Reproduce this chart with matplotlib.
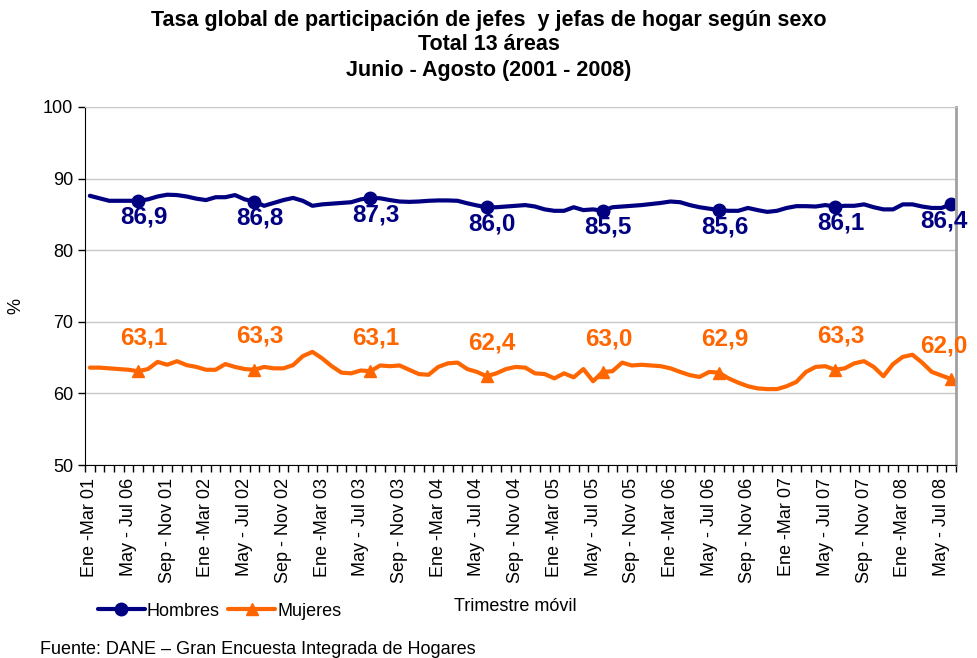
import numpy as np
import matplotlib
matplotlib.use('Agg')
import matplotlib.pyplot as plt

plt.rcParams['font.family'] = ['Liberation Sans', 'DejaVu Sans']

# trimestres moviles Ene-Mar 01 ... Jun-Ago 08 (90 puntos)
hombres = [87.6, 87.25, 86.9, 86.9, 86.9, 86.9, 87.1, 87.5, 87.75, 87.7,
           87.5, 87.2, 87.0, 87.4, 87.4, 87.7, 87.1, 86.8, 86.2, 86.6,
           87.0, 87.3, 86.9, 86.2, 86.4, 86.5, 86.6, 86.7, 87.1, 87.3,
           87.25, 87.0, 86.8, 86.75, 86.8, 86.9, 86.95, 86.95, 86.9, 86.55,
           86.25, 86.0, 86.0, 86.1, 86.2, 86.3, 86.1, 85.7, 85.5, 85.5,
           86.0, 85.6, 85.7, 85.5, 86.0, 86.1, 86.2, 86.3, 86.45, 86.6,
           86.8, 86.7, 86.3, 86.0, 85.8, 85.6, 85.5, 85.5, 85.9, 85.6,
           85.35, 85.5, 85.9, 86.15, 86.15, 86.1, 86.3, 86.1, 86.2, 86.2,
           86.4, 86.0, 85.7, 85.7, 86.4, 86.4, 86.1, 85.9, 85.9, 86.4]

mujeres = [63.6, 63.6, 63.5, 63.4, 63.3, 63.1, 63.4, 64.4, 64.0, 64.5,
           63.95, 63.7, 63.3, 63.3, 64.1, 63.7, 63.4, 63.3, 63.7, 63.5,
           63.5, 63.95, 65.2, 65.8, 64.9, 63.8, 62.9, 62.8, 63.2, 63.1,
           63.9, 63.8, 63.9, 63.3, 62.7, 62.6, 63.7, 64.2, 64.3, 63.4,
           63.0, 62.4, 62.8, 63.4, 63.7, 63.6, 62.8, 62.7, 62.1, 62.8,
           62.25, 63.4, 61.7, 63.0, 63.1, 64.3, 63.9, 64.0, 63.9, 63.8,
           63.5, 63.0, 62.55, 62.3, 63.0, 62.9, 62.1, 61.5, 61.0, 60.7,
           60.6, 60.6, 61.0, 61.6, 63.0, 63.7, 63.8, 63.3, 63.5, 64.2,
           64.5, 63.7, 62.4, 64.1, 65.1, 65.4, 64.3, 63.0, 62.5, 62.0]

# Jun-Ago de cada anio
marcas = [5, 17, 29, 41, 53, 65, 77, 89]
etiq_hombres = ['86,9', '86,8', '87,3', '86,0', '85,5', '85,6', '86,1', '86,4']
etiq_mujeres = ['63,1', '63,3', '63,1', '62,4', '63,0', '62,9', '63,3', '62,0']

x_labels = ['Ene -Mar 01', 'May - Jul 06', 'Sep - Nov 01',
            'Ene -Mar 02', 'May - Jul 02', 'Sep - Nov 02',
            'Ene -Mar 03', 'May - Jul 03', 'Sep - Nov 03',
            'Ene -Mar 04', 'May - Jul 04', 'Sep - Nov 04',
            'Ene -Mar 05', 'May - Jul 05', 'Sep - Nov 05',
            'Ene -Mar 06', 'May - Jul 06', 'Sep - Nov 06',
            'Ene -Mar 07', 'May - Jul 07', 'Sep - Nov 07',
            'Ene -Mar 08', 'May - Jul 08']

azul = '#000080'
naranja = '#FF6600'

x = np.arange(len(hombres))
h = np.array(hombres)
m = np.array(mujeres)

fig = plt.figure(figsize=(9.77, 6.58), dpi=100)
ax = fig.add_axes([0.087, 0.2933, 0.8915, 0.5441])

ax.plot(x, h, color=azul, linewidth=3, solid_capstyle='round', label='Hombres',
        marker='o', markersize=9, markevery=marcas)
ax.plot(x, m, color=naranja, linewidth=3, solid_capstyle='round', label='Mujeres',
        marker='^', markersize=9, markevery=marcas)

for k, i in enumerate(marcas):
    # la ultima etiqueta queda pegada al borde derecho
    dx = 4 if i < len(hombres) - 1 else -5
    ax.annotate(etiq_hombres[k], (x[i], h[i]), xytext=(dx, -12), textcoords='offset points',
                ha='center', va='center', fontsize=17.5, fontweight='bold', color=azul,
                annotation_clip=False)
    ax.annotate(etiq_mujeres[k], (x[i], m[i]), xytext=(dx, 24), textcoords='offset points',
                ha='center', va='center', fontsize=17.5, fontweight='bold', color=naranja,
                annotation_clip=False)

ax.set_xlim(-0.5, len(hombres) - 0.5)
ax.set_ylim(50, 100)
ax.set_yticks(range(50, 101, 10))
ax.tick_params(axis='y', labelsize=13, length=5, width=1)
ax.grid(True, axis='y', color='#c8c8c8', linewidth=1)
ax.set_axisbelow(True)

ax.set_xticks(np.arange(0, len(hombres), 4))
ax.set_xticklabels(x_labels, rotation=90, fontsize=13)
ax.set_xticks(np.arange(-0.5, len(hombres), 1), minor=True)
ax.tick_params(axis='x', which='major', length=0, pad=9)
ax.tick_params(axis='x', which='minor', length=5, width=1)

ax.spines['left'].set_color('black')
ax.spines['bottom'].set_color('black')
ax.spines['top'].set_color('#c8c8c8')
ax.spines['right'].set_color('#a0a0a0')
ax.spines['right'].set_linewidth(2)

fig.text(0.016, 0.535, '%', rotation=90, fontsize=13, ha='center', va='center')
fig.text(0.527, 0.078, 'Trimestre móvil', fontsize=13, ha='center', va='center')
fig.text(0.041, 0.013, 'Fuente: DANE \u2013 Gran Encuesta Integrada de Hogares',
         fontsize=13, ha='left', va='center')

fig.text(0.5, 0.969, 'Tasa global de participación de jefes  y jefas de hogar según sexo',
         fontsize=15.5, fontweight='bold', ha='center', va='center')
fig.text(0.5, 0.932, 'Total 13 áreas', fontsize=15.5, fontweight='bold', ha='center', va='center')
fig.text(0.5, 0.893, 'Junio - Agosto (2001 - 2008)', fontsize=15.5, fontweight='bold',
         ha='center', va='center')

fig.legend(loc='center left', bbox_to_anchor=(0.1, 0.071), ncol=2, frameon=False,
           fontsize=13, handlelength=2.6, handletextpad=0.1, columnspacing=0.5,
           borderaxespad=0, borderpad=0)

fig.savefig('out.png', dpi=100)
